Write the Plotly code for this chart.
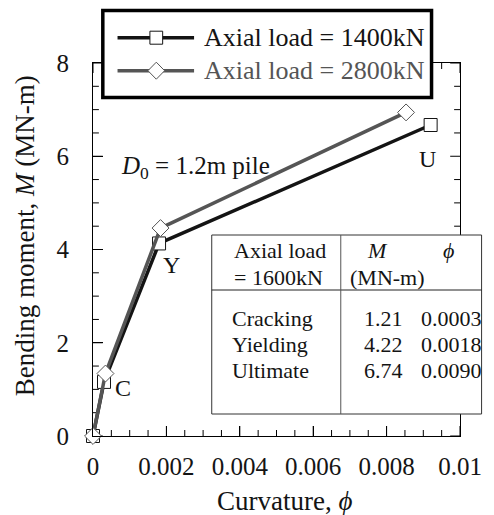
import plotly.graph_objects as go

# Moment-curvature response of the pile section
phi_1400 = [0.0, 0.0003, 0.0018, 0.0092]
M_1400 = [0.0, 1.16, 4.13, 6.67]
phi_2800 = [0.0, 0.00034, 0.00184, 0.00853]
M_2800 = [0.0, 1.34, 4.46, 6.94]

series_names = ["Axial load = 1400kN", "Axial load = 2800kN"]
point_labels = ["", "C", "Y", "U"]

# Summary table for the 1600kN case
table_rows = ["Cracking", "Yielding", "Ultimate"]
table_M = ["1.21", "4.22", "6.74"]
table_phi = ["0.0003", "0.0018", "0.0090"]

x_ticks = [0, 0.002, 0.004, 0.006, 0.008, 0.01]
x_ticktext = ["0", "0.002", "0.004", "0.006", "0.008", "0.01"]
x_minor = [i * 0.0005 for i in range(21)]
y_ticks = [0, 2, 4, 6, 8]
y_minor = [i * 0.5 for i in range(17)]
X_RANGE = [0, 0.01]
Y_RANGE = [0, 8]

W, H = 494, 515
ML, MR, MT, MB = 93, 27, 63, 79
PW, PH = W - ML - MR, H - MT - MB

SERIF = "Liberation Serif"
BLACK = "#141414"
GRAY = "#555555"
MAJOR_LEN, MINOR_LEN = 10, 6


def px(x):
    return (x - ML) / PW


def py(y):
    return (H - MB - y) / PH


fig = go.Figure()

# Inward tick marks on all four sides, drawn as one line trace
xs_per_px = (X_RANGE[1] - X_RANGE[0]) / PW
ys_per_px = (Y_RANGE[1] - Y_RANGE[0]) / PH
tx, ty = [], []
for xv in x_minor:
    ln = MAJOR_LEN if any(abs(xv - t) < 1e-9 for t in x_ticks) else MINOR_LEN
    tx += [xv, xv, None, xv, xv, None]
    ty += [Y_RANGE[0], Y_RANGE[0] + ln * ys_per_px, None,
           Y_RANGE[1], Y_RANGE[1] - ln * ys_per_px, None]
for yv in y_minor:
    ln = MAJOR_LEN if any(abs(yv - t) < 1e-9 for t in y_ticks) else MINOR_LEN
    tx += [X_RANGE[0], X_RANGE[0] + ln * xs_per_px, None,
           X_RANGE[1], X_RANGE[1] - ln * xs_per_px, None]
    ty += [yv, yv, None, yv, yv, None]
fig.add_trace(go.Scatter(x=tx, y=ty, mode="lines",
                         line=dict(color="black", width=1),
                         hoverinfo="skip", showlegend=False, cliponaxis=False))

fig.add_trace(go.Scatter(
    x=phi_1400, y=M_1400, mode="lines+markers", name=series_names[0],
    line=dict(color=BLACK, width=3.5),
    marker=dict(symbol="square", size=13, color="white",
                line=dict(color=BLACK, width=1)),
    cliponaxis=False, showlegend=False))
fig.add_trace(go.Scatter(
    x=phi_2800, y=M_2800, mode="lines+markers", name=series_names[1],
    line=dict(color=GRAY, width=3.5),
    marker=dict(symbol="diamond", size=13, color="white",
                line=dict(color=GRAY, width=1)),
    cliponaxis=False, showlegend=False))

shapes = []
annotations = []

# Point labels next to the 1400kN markers (pixel offsets: right, down)
label_shift = {"C": (19, 6), "Y": (12, 22), "U": (-3, 34)}
for xv, yv, lab in zip(phi_1400, M_1400, point_labels):
    if lab:
        dx, dy = label_shift[lab]
        annotations.append(dict(
            x=xv, y=yv, xref="x", yref="y", text=lab, showarrow=False,
            xanchor="center", yanchor="middle",
            xshift=dx, yshift=-dy, font=dict(family=SERIF, size=24, color=BLACK)))

# Pile annotation
annotations.append(dict(
    x=px(119), y=py(167), xref="paper", yref="paper", xanchor="left",
    yanchor="middle", showarrow=False,
    text="<i>D</i><sub>0</sub> = 1.2m pile",
    font=dict(family=SERIF, size=25, color=BLACK)))

# Legend box drawn by hand
shapes.append(dict(type="rect", xref="paper", yref="paper",
                   x0=px(103), x1=px(438), y0=py(97.5), y1=py(10.5),
                   line=dict(color="black", width=3.5), fillcolor="white",
                   layer="above"))
leg_rows = [(37.7, BLACK, "square"), (70.7, GRAY, "diamond")]
for (ly, col, sym), name in zip(leg_rows, series_names):
    shapes.append(dict(type="line", xref="paper", yref="paper",
                       x0=px(118), x1=px(196), y0=py(ly), y1=py(ly),
                       line=dict(color=col, width=3.5), layer="above"))
    cx = 157.5
    if sym == "square":
        h = 6.5
        shapes.append(dict(type="rect", xref="paper", yref="paper",
                           x0=px(cx - h), x1=px(cx + h), y0=py(ly + h), y1=py(ly - h),
                           line=dict(color=col, width=1), fillcolor="white",
                           layer="above"))
    else:
        h = 8.5
        path = (f"M {px(cx - h)},{py(ly)} L {px(cx)},{py(ly - h)} "
                f"L {px(cx + h)},{py(ly)} L {px(cx)},{py(ly + h)} Z")
        shapes.append(dict(type="path", xref="paper", yref="paper", path=path,
                           line=dict(color=col, width=1), fillcolor="white",
                           layer="above"))
    annotations.append(dict(
        x=px(204), y=py(ly), xref="paper", yref="paper", xanchor="left",
        yanchor="middle", showarrow=False, text=name,
        font=dict(family=SERIF, size=26, color=col)))

# Summary table
tx0, tx1, ty0, ty1 = 214, 489, 235, 414
shapes.append(dict(type="rect", xref="paper", yref="paper",
                   x0=px(tx0), x1=px(tx1), y0=py(ty1), y1=py(ty0),
                   line=dict(color="#333333", width=1), fillcolor="white",
                   layer="above"))
shapes.append(dict(type="line", xref="paper", yref="paper",
                   x0=px(tx0), x1=px(tx1), y0=py(290), y1=py(290),
                   line=dict(color="#222222", width=1), layer="above"))
shapes.append(dict(type="line", xref="paper", yref="paper",
                   x0=px(345.5), x1=px(345.5), y0=py(ty0), y1=py(ty1),
                   line=dict(color="#555555", width=1), layer="above"))


def cell(x, y, text, anchor="left"):
    annotations.append(dict(
        x=px(x), y=py(y), xref="paper", yref="paper", xanchor=anchor,
        yanchor="middle", showarrow=False, text=text,
        font=dict(family=SERIF, size=22, color=BLACK)))


cell(235, 250, "Axial load")
cell(235, 277, "= 1600kN")
cell(383, 250, "<i>M</i>", "center")
cell(455, 250, "<i>ϕ</i>", "center")
cell(353, 277, "(MN-m)")
for i, (r, m, p) in enumerate(zip(table_rows, table_M, table_phi)):
    yy = 318 + i * 26
    cell(233, yy, r)
    cell(367, yy, m)
    cell(425, yy, p)

# Axis titles
annotations.append(dict(
    x=px(24), y=py(236), xref="paper", yref="paper", textangle=-90,
    xanchor="center", yanchor="middle",
    showarrow=False, text="Bending moment, <i>M</i> (MN-m)",
    font=dict(family=SERIF, size=27, color=BLACK)))
annotations.append(dict(
    x=px(288), y=py(501), xref="paper", yref="paper",
    xanchor="center", yanchor="middle",
    showarrow=False, text="Curvature, <i>ϕ</i>",
    font=dict(family=SERIF, size=27, color=BLACK)))

axis_common = dict(
    showgrid=False, zeroline=False, showline=True, linecolor="black",
    linewidth=1, mirror=True, ticks="inside", ticklen=10, tickwidth=1,
    tickcolor="black",
    tickfont=dict(family=SERIF, size=25, color=BLACK),
)

fig.update_layout(
    width=W, height=H,
    margin=dict(l=ML, r=MR, t=MT, b=MB),
    paper_bgcolor="white", plot_bgcolor="white",
    xaxis=dict(range=X_RANGE, tickmode="array", tickvals=x_ticks,
               ticktext=x_ticktext, ticklabelstandoff=8, **axis_common),
    yaxis=dict(range=Y_RANGE, tickmode="array", tickvals=y_ticks,
               ticklabelstandoff=18, **axis_common),
    shapes=shapes, annotations=annotations,
    showlegend=False,
)

fig.write_html("out.html")
